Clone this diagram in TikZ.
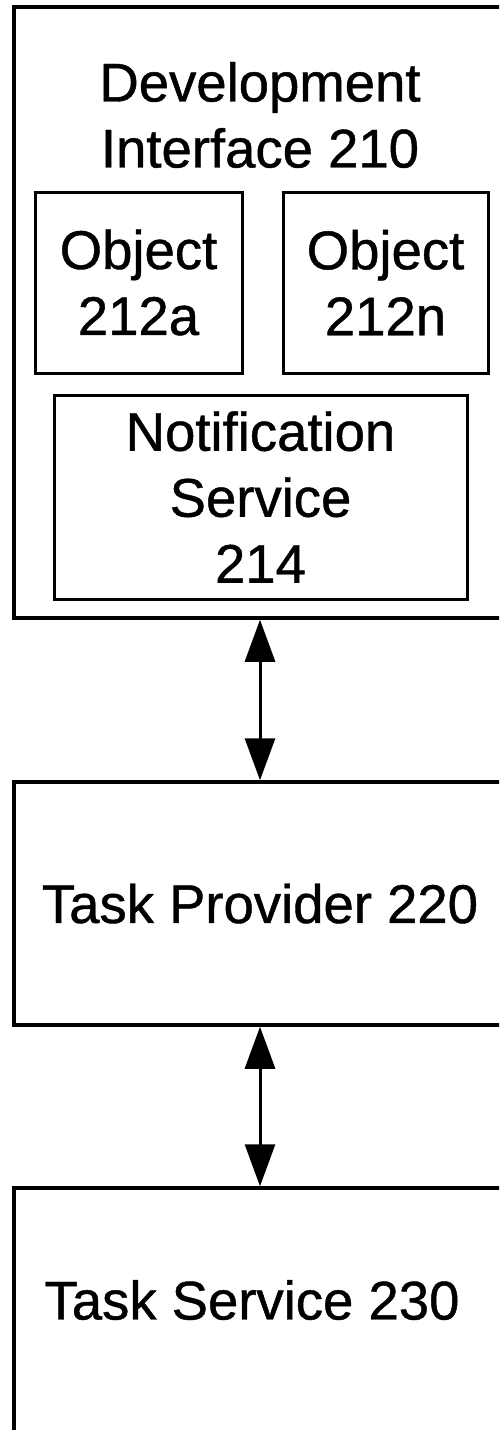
\documentclass[tikz,border=0pt]{standalone}
\usepackage{fontspec}
\setmainfont[FakeBold=0.8]{Liberation Sans}
\usetikzlibrary{arrows.meta,positioning}

\begin{document}
\begin{tikzpicture}[x=1pt,y=-1pt,
  box/.style={draw,line width=3.5pt,inner sep=0pt,minimum width=492pt},
  inbox/.style={draw,line width=3pt,inner sep=0pt,align=center,font=\fontsize{54.5}{66}\selectfont},
  lbl/.style={align=center,font=\fontsize{54.5}{66}\selectfont},
  link/.style={line width=3pt,{Triangle[length=42pt,width=30pt]}-{Triangle[length=42pt,width=30pt]}}]
\clip (0,0) rectangle (499,1430);
%\path[use as bounding box] (0,0) rectangle (499,1430);
\node[box,minimum height=611pt] (dev) at (260,312.5) {};
\node[lbl] (devname) at (260,115) {Development\\Interface 210};
\node[inbox,minimum width=207pt,minimum height=181pt] (obja) at (138.5,282.5) {Object\\212a};
\node[inbox,minimum width=205pt,minimum height=181pt] (objn) at (385.5,282.5) {Object\\212n};
\node[inbox,minimum width=413pt,minimum height=204pt] (notif) at (260.5,497) {Notification\\Service\\214};

\node[box,lbl,minimum height=243pt] (prov) at (260,903.5) {Task Provider 220};
\node[box,minimum height=262pt] (serv) at (260,1319) {};
\node[lbl] (servname) at (252,1300) {Task Service 230};

\path[link]
(dev.south) edge (prov.north)
(prov.south) edge (serv.north)
;
\end{tikzpicture}
\end{document}
